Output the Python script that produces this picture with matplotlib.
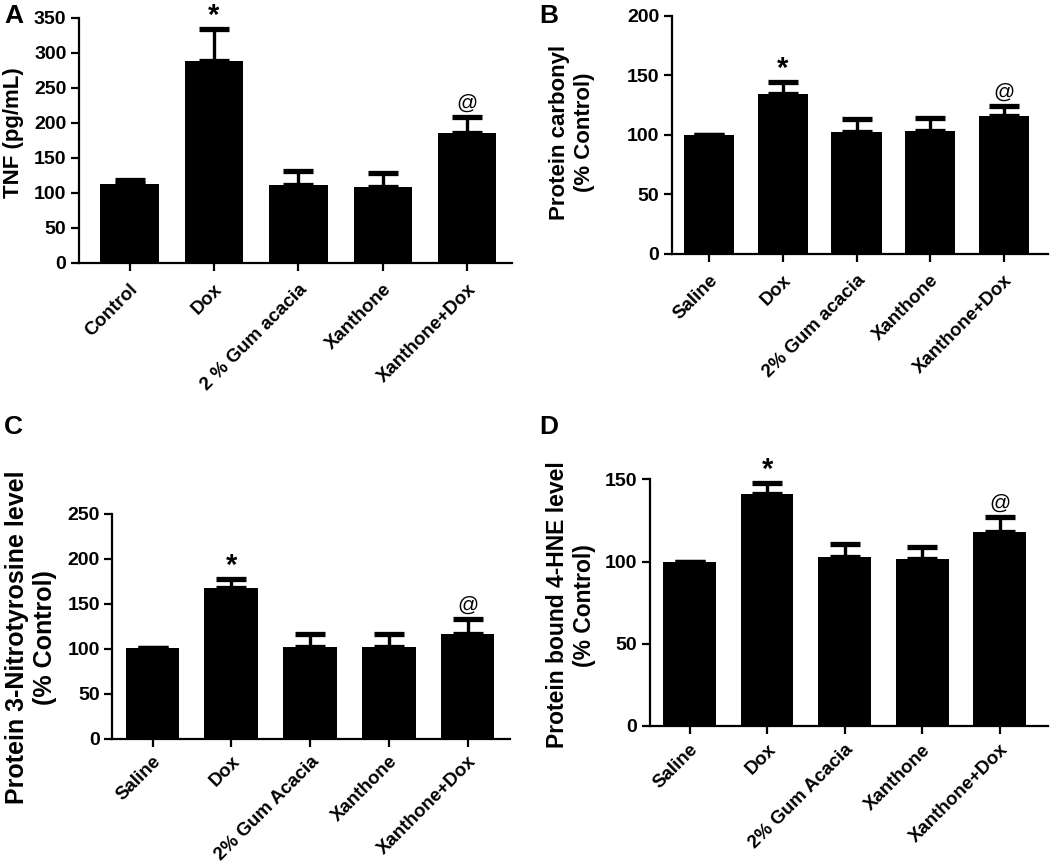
import numpy as np
import matplotlib.pyplot as plt

plt.rcParams['font.family'] = ['Liberation Sans', 'DejaVu Sans']
plt.rcParams['font.weight'] = 'bold'

# data
groups_a = ['Control', 'Dox', '2 % Gum acacia', 'Xanthone', 'Xanthone+Dox']
tnf_mean = [113, 288, 111, 108, 186]
tnf_err = [5.5, 46, 20, 21, 22]

groups_b = ['Saline', 'Dox', '2% Gum acacia', 'Xanthone', 'Xanthone+Dox']
carbonyl_mean = [100, 134.5, 102.5, 103.5, 116]
carbonyl_err = [0, 10, 11, 11, 8]

groups_cd = ['Saline', 'Dox', '2% Gum Acacia', 'Xanthone', 'Xanthone+Dox']
nitro_mean = [100.5, 168, 102.5, 102.5, 117]
nitro_err = [0, 9.5, 13.5, 13.5, 16.5]

hne_mean = [100, 141, 102.5, 101.5, 118]
hne_err = [0, 7, 8, 7.5, 9]

marks = ['', '*', '', '', '@']

fig = plt.figure(figsize=(10.5, 8.65), dpi=100)


def panel(rect, labels, mean, err, ylim, yticks, ylabel, letter, letter_xy,
          xlim, ylabel_size, label_xy, width=0.68, xpad=7):
    ax = fig.add_axes(rect)
    x = np.arange(len(labels))
    ax.bar(x, mean, width=width, color='black', zorder=2)
    ax.errorbar(x, mean, yerr=[np.zeros(len(err)), err], fmt='none',
                ecolor='black', elinewidth=2.4, capsize=11, capthick=3.8,
                zorder=1)
    for xi, m, e, s in zip(x, mean, err, marks):
        if s == '*':
            ax.annotate(s, (xi, m + e), xytext=(0, -1), textcoords='offset points',
                        ha='center', va='bottom', fontsize=21, fontweight='bold')
        elif s == '@':
            ax.annotate(s, (xi, m + e), xytext=(0, 3), textcoords='offset points',
                        ha='center', va='bottom', fontsize=15, fontweight='normal')
    ax.set_xlim(*xlim)
    ax.set_ylim(*ylim)
    ax.set_yticks(yticks)
    ax.set_xticks(x)
    ax.set_xticklabels(labels, rotation=45, ha='right', rotation_mode='anchor',
                       fontsize=13.5, fontweight='bold')
    for t in ax.get_yticklabels():
        t.set_fontsize(14)
        t.set_fontweight('bold')
    ax.spines['top'].set_visible(False)
    ax.spines['right'].set_visible(False)
    ax.spines['left'].set_linewidth(1.6)
    ax.spines['bottom'].set_linewidth(1.6)
    ax.tick_params(axis='both', width=1.6, length=6, direction='out')
    ax.tick_params(axis='x', pad=xpad)
    ax.tick_params(axis='y', pad=3)
    ax.set_ylabel(ylabel, fontsize=ylabel_size, fontweight='bold')
    ax.yaxis.set_label_coords(*label_xy)
    fig.text(letter_xy[0], letter_xy[1], letter, fontsize=19, fontweight='bold',
             ha='left', va='top')
    return ax


panel([0.0752, 0.696, 0.4124, 0.2836], groups_a, tnf_mean, tnf_err,
      (0, 350), range(0, 351, 50), 'TNF (pg/mL)', 'A', (0.004, 0.995),
      (-0.6, 4.53), 16, (-0.128, 0.53), width=0.69)

panel([0.6397, 0.7064, 0.3584, 0.2755], groups_b, carbonyl_mean, carbonyl_err,
      (0, 200), range(0, 201, 50), 'Protein carbonyl\n(% Control)', 'B',
      (0.514, 0.995), (-0.51, 4.6), 16, (-0.205, 0.51))

panel([0.107, 0.1457, 0.3788, 0.2605], groups_cd, nitro_mean, nitro_err,
      (0, 250), range(0, 251, 50), 'Protein 3-Nitrotyrosine level\n(% Control)',
      'C', (0.004, 0.52), (-0.51, 4.54), 18, (-0.14, 0.45), xpad=4)

panel([0.619, 0.1607, 0.379, 0.2852], groups_cd, hne_mean, hne_err,
      (0, 150), range(0, 151, 50), 'Protein bound 4-HNE level\n(% Control)',
      'D', (0.514, 0.52), (-0.51, 4.62), 16.5, (-0.136, 0.49), xpad=5)

fig.savefig('out.png', dpi=100)
